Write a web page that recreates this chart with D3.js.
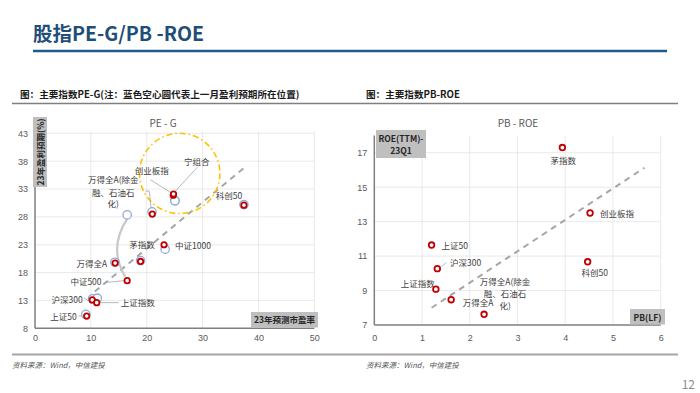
<!DOCTYPE html>
<meta charset="utf-8">
<title>股指PE-G/PB -ROE</title>
<style>
body {
  margin: 0;
  background: #fff;
  font-family: "Noto Sans CJK SC", "Noto Sans", sans-serif;
}
svg text { fill: #404040; }
.grid line { stroke: #e4e4e4; stroke-width: .8px; }
.axis path, .axis line { stroke: none; }
.axis text { font-size: 9px; fill: #595959; }
.lbl { font-size: 8.5px; fill: #404040; }
.leader { stroke: #a6a6a6; stroke-width: .8px; fill: none; }
.box { fill: #bfbfbf; }
.boxtxt { font-size: 8.5px; font-weight: bold; fill: #262626; }
</style>
<body>
<script src="https://cdn.jsdelivr.net/npm/d3@7"></script>
<script>

// 左图：PE-G
var peNames = ["上证50", "沪深300", "上证指数", "中证500", "万得全A", "茅指数", "中证1000", "万得全A(除金融、石油石化)", "创业板指", "宁组合", "科创50"];
var peNow   = [9.25, 10.25, 11.05, 16.5, 14.35, 18.9, 23.1, 21.0, 24.75, 24.8, 37.4];
var gNow    = [10.2, 13.1, 12.6, 16.55, 19.7, 20.0, 23.0, 28.5, 31.9, 32.1, 30.1];
var pePrev  = [9.1, 10.3, 11.15, 16.5, 14.3, 18.9, 23.3, 20.95, 25.05, 25.05, 37.4];
var gPrev   = [10.5, 13.3, 13.4, 28.35, 19.85, 20.15, 22.2, 28.9, 30.9, 30.9, 30.2];
var peTrend = [[10.7, 14.6], [37.3, 36.7]];
var peXTicks = [0, 10, 20, 30, 40, 50];
var peYTicks = [8, 13, 18, 23, 28, 33, 38, 43];

// 右图：PB-ROE
var pbNames = ["茅指数", "创业板指", "上证50", "沪深300", "科创50", "上证指数", "万得全A", "万得全A(除金融、石油石化)"];
var pbVals  = [3.94, 4.52, 1.2, 1.32, 4.47, 1.29, 1.61, 2.3];
var roeVals = [17.3, 13.5, 11.64, 10.27, 10.67, 9.08, 8.47, 7.62];
var pbTrend = [[1.2, 8.0], [5.66, 16.13]];
var pbXTicks = [0, 1, 2, 3, 4, 5, 6];
var pbYTicks = [7, 9, 11, 13, 15, 17];

var svg = d3.select("body").append("svg")
    .attr("width", 700)
    .attr("height", 393);

// 页面标题
svg.append("text")
    .attr("x", 33).attr("y", 41)
    .style("font-size", "19.5px").style("font-weight", "bold").style("fill", "#1f4e79")
    .text("股指PE-G/PB -ROE");
svg.append("line")
    .attr("x1", 33).attr("x2", 667).attr("y1", 51).attr("y2", 51)
    .style("stroke", "#1f5a8c").style("stroke-width", 2.5);

// 图注
svg.append("text")
    .attr("x", 20).attr("y", 98)
    .style("font-size", "9.6px").style("font-weight", "bold").style("fill", "#1a1a1a")
    .text("图：主要指数PE-G(注：蓝色空心圆代表上一月盈利预期所在位置)");
svg.append("text")
    .attr("x", 366).attr("y", 98)
    .style("font-size", "9.6px").style("font-weight", "bold").style("fill", "#1a1a1a")
    .text("图：主要指数PB-ROE");
svg.append("line")
    .attr("x1", 12).attr("x2", 678).attr("y1", 103.5).attr("y2", 103.5)
    .style("stroke", "#7f7f7f").style("stroke-width", 1.3);
svg.append("line")
    .attr("x1", 12).attr("x2", 678).attr("y1", 354.5).attr("y2", 354.5)
    .style("stroke", "#a6a6a6").style("stroke-width", 2.2);
[12, 366].forEach(function(x) {
  svg.append("text")
      .attr("x", x).attr("y", 368)
      .style("font-size", "7.5px").style("font-style", "italic").style("fill", "#595959")
      .text("资料来源：Wind，中信建投");
});
svg.append("text")
    .attr("x", 695).attr("y", 389).attr("text-anchor", "end")
    .style("font-size", "12px").style("fill", "#8c8c8c")
    .text("12");

// ---------- 左图 ----------
var x1 = d3.scaleLinear().domain([0, 50]).range([35, 314.3]);
var y1 = d3.scaleLinear().domain([8, 43]).range([328.3, 133.3]);

var g1 = svg.append("g");

g1.append("g").attr("class", "grid")
  .selectAll("line").data(peXTicks.slice(1)).enter().append("line")
    .attr("x1", x1).attr("x2", x1).attr("y1", 131).attr("y2", y1(8));
g1.append("g").attr("class", "grid")
  .selectAll("line").data(peYTicks.slice(1)).enter().append("line")
    .attr("x1", x1(0)).attr("x2", x1(50)).attr("y1", y1).attr("y2", y1);

g1.append("g").attr("class", "axis")
    .attr("transform", "translate(0," + y1(8) + ")")
    .call(d3.axisBottom(x1).tickValues(peXTicks).tickFormat(d3.format("d")).tickSize(0).tickPadding(6));
g1.append("g").attr("class", "axis")
    .attr("transform", "translate(" + (x1(0) - 7) + ",0)")
    .call(d3.axisLeft(y1).tickValues(peYTicks).tickFormat(d3.format("d")).tickSize(0).tickPadding(0));

g1.append("line")
    .attr("x1", x1(0)).attr("x2", x1(0)).attr("y1", 131).attr("y2", y1(8))
    .style("stroke", "#7f7f7f").style("stroke-width", 1.5);
g1.append("line")
    .attr("x1", x1(0)).attr("x2", x1(50)).attr("y1", y1(8)).attr("y2", y1(8))
    .style("stroke", "#7f7f7f").style("stroke-width", 1.5);

g1.append("text")
    .attr("x", 163).attr("y", 127).attr("text-anchor", "middle")
    .style("font-size", "10px").style("fill", "#595959")
    .text("PE - G");

// 趋势线
g1.append("line")
    .attr("x1", x1(peTrend[0][0])).attr("y1", y1(peTrend[0][1]))
    .attr("x2", x1(peTrend[1][0])).attr("y2", y1(peTrend[1][1]))
    .style("stroke", "#a6a6a6").style("stroke-width", 2).style("stroke-dasharray", "6,5");

// 黄色圈
g1.append("ellipse")
    .attr("cx", x1(25.9)).attr("cy", y1(35.8))
    .attr("rx", x1(7.2) - x1(0)).attr("ry", y1(0) - y1(7.2))
    .style("fill", "none").style("stroke", "#ffc000").style("stroke-width", 1.6)
    .style("stroke-dasharray", "6,3,1.5,3");

// 中证500 弯箭头
var i500 = peNames.indexOf("中证500");
g1.append("path")
    .attr("d", "M" + x1(pePrev[i500]) + "," + (y1(gPrev[i500]) + 4) +
               " Q" + (x1(pePrev[i500]) - 19) + "," + ((y1(gPrev[i500]) + y1(gNow[i500])) / 2) +
               " " + (x1(peNow[i500]) - 2) + "," + (y1(gNow[i500]) - 4))
    .style("fill", "none").style("stroke", "#c8c8c8").style("stroke-width", 2.2);

// 引线与标签
var peLabels = [
  {dx: -10, dy: [3.5], anchor: "end", lead: [[-8, 0], [-3, 0]]},
  {dx: -9.6, dy: [3], anchor: "end", lead: [[-8, -2], [-4, 1]]},
  {dx: 24, dy: [3.5], anchor: "start", lead: [[3, 0], [22, 0]]},
  {dx: -25.6, dy: [4], anchor: "end", lead: [[-23, 2], [-3, 0]]},
  {dx: -8, dy: [3.5], anchor: "end"},
  {dx: 1.5, dy: [-13], anchor: "middle"},
  {dx: 11, dy: [4], anchor: "start"},
  {dx: -39, dy: [-31, -18, -7], anchor: "middle", lines: ["万得全A(除金", "融、石油石", "化)"],
   lead: [[-7, -23], [-3, -23], [-1, -4]]},
  {dx: -21.6, dy: [-21], anchor: "middle", lead: [[-23, -15.5], [-1.5, -2]]},
  {dx: 23.2, dy: [-29], anchor: "middle", lead: [[23.5, -26.5], [1.5, -2.5]]},
  {dx: -15, dy: [-6.5], anchor: "middle"}
];

peLabels.forEach(function(l, i) {
  var px = x1(peNow[i]), py = y1(gNow[i]);
  if (l.lead) {
    g1.append("path").attr("class", "leader")
        .attr("d", d3.line()(l.lead.map(function(p) { return [px + p[0], py + p[1]]; })));
  }
  var lines = l.lines || [peNames[i]];
  lines.forEach(function(t, k) {
    g1.append("text").attr("class", "lbl")
        .attr("x", px + l.dx).attr("y", py + l.dy[k])
        .attr("text-anchor", l.anchor)
        .text(t);
  });
});

// 上月（蓝色空心圆）
g1.selectAll(".prev").data(pePrev).enter().append("circle")
    .attr("class", "prev")
    .attr("cx", function(d) { return x1(d); })
    .attr("cy", function(d, i) { return y1(gPrev[i]); })
    .attr("r", 4.2)
    .style("fill", "#fff").style("stroke", "#8faadc").style("stroke-width", 1.3);

// 当前（红色）
g1.selectAll(".now").data(peNow).enter().append("circle")
    .attr("class", "now")
    .attr("cx", function(d) { return x1(d); })
    .attr("cy", function(d, i) { return y1(gNow[i]); })
    .attr("r", 2.7)
    .style("fill", "#fff").style("stroke", "#c00000").style("stroke-width", 1.8);

// 轴标题框
g1.append("rect").attr("class", "box").attr("x", 33).attr("y", 117).attr("width", 14).attr("height", 70);
g1.append("text").attr("class", "boxtxt")
    .attr("transform", "translate(43.5,152) rotate(-90)")
    .attr("text-anchor", "middle")
    .text("23年盈利预期(%)");
g1.append("rect").attr("class", "box").attr("x", 251).attr("y", 312).attr("width", 67).attr("height", 15.5);
g1.append("text").attr("class", "boxtxt")
    .attr("x", 284.5).attr("y", 323).attr("text-anchor", "middle")
    .text("23年预测市盈率");

// ---------- 右图 ----------
var x2 = d3.scaleLinear().domain([0, 6]).range([374.3, 660.7]);
var y2 = d3.scaleLinear().domain([7, 18]).range([325, 135.5]);

var g2 = svg.append("g");

g2.append("g").attr("class", "grid")
  .selectAll("line").data(pbXTicks.slice(1)).enter().append("line")
    .attr("x1", x2).attr("x2", x2).attr("y1", y2(18)).attr("y2", y2(7));
g2.append("g").attr("class", "grid")
  .selectAll("line").data(pbYTicks.slice(1)).enter().append("line")
    .attr("x1", x2(0)).attr("x2", x2(6)).attr("y1", y2).attr("y2", y2);

g2.append("g").attr("class", "axis")
    .attr("transform", "translate(0," + (y2(7) + 4) + ")")
    .call(d3.axisBottom(x2).tickValues(pbXTicks).tickFormat(d3.format("d")).tickSize(0).tickPadding(6));
g2.append("g").attr("class", "axis")
    .attr("transform", "translate(" + (x2(0) - 7) + ",0)")
    .call(d3.axisLeft(y2).tickValues(pbYTicks).tickFormat(d3.format("d")).tickSize(0).tickPadding(0));

g2.append("line")
    .attr("x1", x2(0)).attr("x2", x2(0)).attr("y1", y2(18)).attr("y2", y2(7))
    .style("stroke", "#7f7f7f").style("stroke-width", 1.5);
g2.append("line")
    .attr("x1", x2(0)).attr("x2", x2(6)).attr("y1", y2(7)).attr("y2", y2(7))
    .style("stroke", "#7f7f7f").style("stroke-width", 1.5);

g2.append("text")
    .attr("x", 518).attr("y", 127).attr("text-anchor", "middle")
    .style("font-size", "10px").style("fill", "#595959")
    .text("PB - ROE");

g2.append("line")
    .attr("x1", x2(pbTrend[0][0])).attr("y1", y2(pbTrend[0][1]))
    .attr("x2", x2(pbTrend[1][0])).attr("y2", y2(pbTrend[1][1]))
    .style("stroke", "#a6a6a6").style("stroke-width", 2).style("stroke-dasharray", "6,5");

var pbLabels = [
  {dx: 1, dy: [16], anchor: "middle"},
  {dx: 10, dy: [3.5], anchor: "start"},
  {dx: 10, dy: [3.5], anchor: "start"},
  {dx: 12.7, dy: [-3], anchor: "start", lead: [[4, -2], [9, -6]]},
  {dx: 7, dy: [14], anchor: "middle"},
  {dx: -1, dy: [-2], anchor: "end"},
  {dx: 27, dy: [6.5], anchor: "middle"},
  {dx: 21, dy: [-29, -17, -5], anchor: "middle", lines: ["万得全A(除金", "融、石油石", "化)"]}
];

pbLabels.forEach(function(l, i) {
  var px = x2(pbVals[i]), py = y2(roeVals[i]);
  if (l.lead) {
    g2.append("path").attr("class", "leader")
        .attr("d", d3.line().curve(d3.curveBasis)(l.lead.map(function(p) { return [px + p[0], py + p[1]]; })));
  }
  var lines = l.lines || [pbNames[i]];
  lines.forEach(function(t, k) {
    g2.append("text").attr("class", "lbl")
        .attr("x", px + l.dx).attr("y", py + l.dy[k])
        .attr("text-anchor", l.anchor)
        .text(t);
  });
});

g2.selectAll(".pt").data(pbVals).enter().append("circle")
    .attr("class", "pt")
    .attr("cx", function(d) { return x2(d); })
    .attr("cy", function(d, i) { return y2(roeVals[i]); })
    .attr("r", 2.8)
    .style("fill", "#fff").style("stroke", "#c00000").style("stroke-width", 1.8);

g2.append("rect").attr("class", "box").attr("x", 376).attr("y", 130).attr("width", 50).attr("height", 28);
g2.append("text").attr("class", "boxtxt")
    .attr("x", 401).attr("y", 141.5).attr("text-anchor", "middle")
    .text("ROE(TTM)-");
g2.append("text").attr("class", "boxtxt")
    .attr("x", 401).attr("y", 154).attr("text-anchor", "middle")
    .text("23Q1");
g2.append("rect").attr("class", "box").attr("x", 630).attr("y", 309).attr("width", 35).attr("height", 15.5);
g2.append("text").attr("class", "boxtxt")
    .attr("x", 647.5).attr("y", 320.5).attr("text-anchor", "middle")
    .text("PB(LF)");

</script>
</body>
